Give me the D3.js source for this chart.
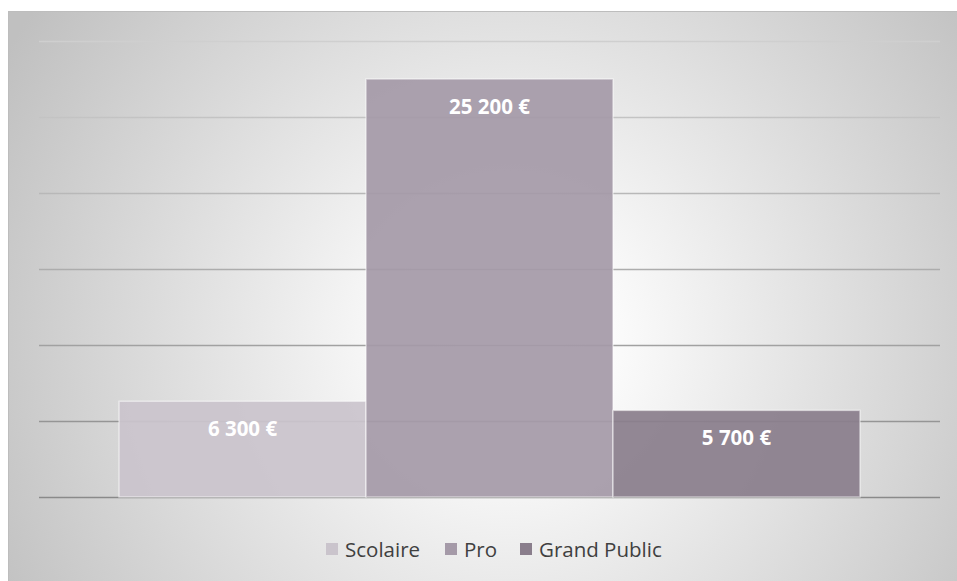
<!DOCTYPE html>
<html>
<head>
<meta charset="utf-8">
<script src="https://cdn.jsdelivr.net/npm/d3@7"></script>
<style>
  body { margin: 0; background: #fff; }
  text { font-family: "Open Sans", sans-serif; }
</style>
</head>
<body>
<div class="chart"></div>
<script>
// data
const series = ["Scolaire", "Pro", "Grand Public"];
const values = [6300, 27500, 5700];          // bar heights as drawn
const valueLabels = ["6 300 €", "25 200 €", "5 700 €"];
const colors = ["#cac4cc", "#a59aa8", "#8a7e8c"];
const yTicks = [0, 5000, 10000, 15000, 20000, 25000, 30000];

const W = 957, H = 581;
const plot = { left: 39, right: 940, top: 41, bottom: 497 };

const svg = d3.select(".chart")
	.append("svg")
	.attr("width", W)
	.attr("height", H);

const defs = svg.append("defs");

// background radial gradient
const bg = defs.append("radialGradient")
	.attr("id", "bg")
	.attr("gradientUnits", "userSpaceOnUse")
	.attr("cx", 510).attr("cy", 340).attr("r", 580);
bg.append("stop").attr("offset", "0%").attr("stop-color", "#ffffff");
bg.append("stop").attr("offset", "18%").attr("stop-color", "#fbfbfb");
bg.append("stop").attr("offset", "100%").attr("stop-color", "#c0c0c0");

// gridlines darken towards the bottom
const gg = defs.append("linearGradient")
	.attr("id", "grid")
	.attr("gradientUnits", "userSpaceOnUse")
	.attr("x1", 0).attr("y1", plot.top).attr("x2", 0).attr("y2", plot.bottom);
gg.append("stop").attr("offset", "0%").attr("stop-color", "#cfcfcf");
gg.append("stop").attr("offset", "100%").attr("stop-color", "#8a8a8a");

svg.append("rect")
	.attr("x", 8.5).attr("y", 11.5)
	.attr("width", W - 8).attr("height", H - 10)
	.attr("fill", "url(#bg)")
	.attr("stroke", "#bdbdbd")
	.attr("stroke-width", 1);

// scales
const y = d3.scaleLinear().domain([0, 30000]).range([plot.bottom, plot.top]);
const x0 = d3.scaleBand().domain(["cat"]).range([plot.left, plot.right]).paddingOuter(0.108);
const x1 = d3.scaleBand().domain(series).range([x0("cat"), x0("cat") + x0.bandwidth()]);

// gridlines
svg.append("g")
	.selectAll("line")
	.data(yTicks).enter()
	.append("line")
		.attr("x1", plot.left).attr("x2", plot.right)
		.attr("y1", (d) => Math.round(y(d)) + 0.5)
		.attr("y2", (d) => Math.round(y(d)) + 0.5)
		.attr("stroke", "url(#grid)")
		.attr("stroke-width", 1.5);

// bars
const data = series.map((s, i) => ({ s, v: values[i], label: valueLabels[i], c: colors[i] }));

svg.append("g")
	.selectAll("rect")
	.data(data).enter()
	.append("rect")
		.attr("x", (d) => x1(d.s))
		.attr("y", (d) => y(d.v))
		.attr("width", x1.bandwidth())
		.attr("height", (d) => y(0) - y(d.v))
		.attr("fill", (d) => d.c)
		.attr("fill-opacity", 0.93)
		.attr("stroke", "#ffffff")
		.attr("stroke-opacity", 0.5)
		.attr("stroke-width", 1.5);

svg.append("g")
	.selectAll("text")
	.data(data).enter()
	.append("text")
		.text((d) => d.label)
		.attr("x", (d) => x1(d.s) + x1.bandwidth() / 2)
		.attr("y", (d) => y(d.v) + 35)
		.attr("text-anchor", "middle")
		.attr("fill", "#ffffff")
		.style("font-size", "20.5px")
		.style("font-weight", "bold");

// legend
const legendX = [326, 445, 520];
const legend = svg.append("g")
	.selectAll("g")
	.data(data).enter()
	.append("g")
		.attr("transform", (d, i) => `translate(${legendX[i]}, 543)`);

legend.append("rect")
	.attr("width", 12).attr("height", 12)
	.attr("fill", (d) => d.c);

legend.append("text")
	.text((d) => d.s)
	.attr("x", 19)
	.attr("y", 13.5)
	.attr("fill", "#404040")
	.style("font-size", "20.5px");
</script>
</body>
</html>
